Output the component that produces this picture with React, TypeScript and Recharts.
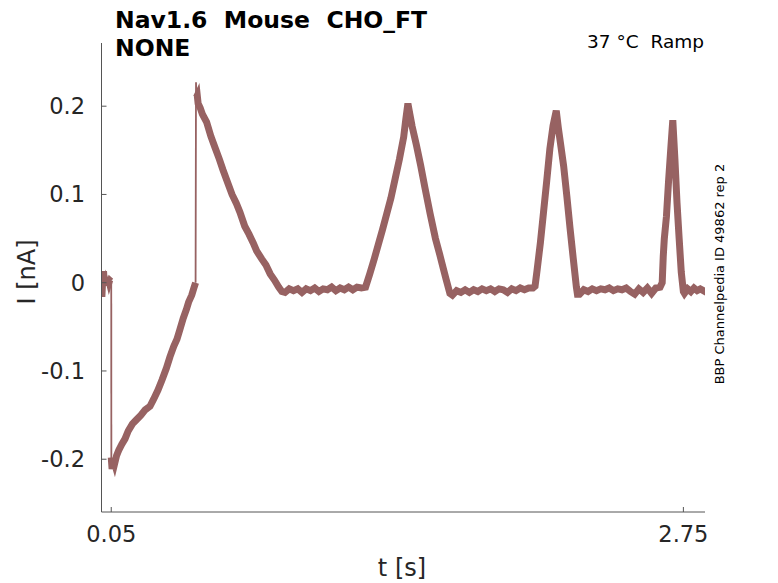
import { LineChart, Line, XAxis, YAxis } from 'recharts'

// current traces, t in s, I in nA
const holdT = [0.004, 0.008, 0.012, 0.016, 0.02, 0.025, 0.03, 0.035, 0.04, 0.045, 0.05]
const holdI = [0.0, -0.016, 0.003, 0.013, -0.003, 0.002, -0.002, 0.004, -0.001, 0.003, 0.002]

const rampT = [0.05, 0.054, 0.06, 0.066, 0.075, 0.085, 0.1, 0.115, 0.13, 0.15, 0.17, 0.19, 0.21, 0.233, 0.25, 0.27, 0.29, 0.31, 0.327, 0.345, 0.36, 0.374, 0.39, 0.405, 0.415, 0.43, 0.44, 0.448]
const rampI = [-0.198, -0.211, -0.2, -0.205, -0.196, -0.19, -0.183, -0.177, -0.168, -0.16, -0.155, -0.15, -0.144, -0.14, -0.132, -0.122, -0.11, -0.097, -0.084, -0.072, -0.064, -0.053, -0.04, -0.03, -0.022, -0.014, -0.006, 0.0]

const decayT = [0.452, 0.456, 0.46, 0.47, 0.48, 0.5, 0.52, 0.54, 0.56, 0.577, 0.6, 0.62, 0.64, 0.657, 0.68, 0.7, 0.72, 0.736, 0.76, 0.78, 0.8, 0.82, 0.84, 0.855]
const decayI = [0.21, 0.212, 0.203, 0.198, 0.191, 0.182, 0.166, 0.153, 0.14, 0.128, 0.113, 0.1, 0.09, 0.08, 0.064, 0.055, 0.045, 0.036, 0.027, 0.02, 0.01, 0.003, -0.005, -0.01]

const flat1T = [0.87, 0.89, 0.91, 0.93, 0.95, 0.97, 0.99, 1.01, 1.03, 1.05, 1.07, 1.09, 1.11, 1.13, 1.15, 1.17, 1.19, 1.21, 1.23]
const flat1I = [-0.011, -0.007, -0.009, -0.007, -0.011, -0.007, -0.009, -0.006, -0.01, -0.007, -0.008, -0.005, -0.009, -0.006, -0.008, -0.005, -0.008, -0.005, -0.006]

const peak1T = [1.25, 1.27, 1.29, 1.31, 1.33, 1.35, 1.37, 1.39, 1.41, 1.43, 1.44, 1.45, 1.46, 1.47, 1.49, 1.51, 1.53, 1.555, 1.58, 1.6, 1.615, 1.63, 1.648]
const peak1I = [-0.005, 0.01, 0.026, 0.043, 0.06, 0.078, 0.096, 0.118, 0.14, 0.165, 0.185, 0.203, 0.19, 0.177, 0.156, 0.133, 0.108, 0.078, 0.05, 0.032, 0.018, 0.004, -0.012]

const flat2T = [1.66, 1.68, 1.7, 1.72, 1.74, 1.76, 1.78, 1.8, 1.82, 1.84, 1.86, 1.88, 1.9, 1.92, 1.94, 1.96, 1.98, 2.0, 2.02, 2.04]
const flat2I = [-0.014, -0.009, -0.011, -0.008, -0.011, -0.008, -0.01, -0.007, -0.009, -0.007, -0.01, -0.007, -0.008, -0.011, -0.007, -0.009, -0.006, -0.008, -0.006, -0.006]

const peak2T = [2.05, 2.06, 2.075, 2.09, 2.105, 2.12, 2.135, 2.15, 2.16, 2.17, 2.185, 2.2, 2.215, 2.23, 2.245, 2.25]
const peak2I = [-0.004, 0.015, 0.045, 0.08, 0.115, 0.152, 0.178, 0.195, 0.175, 0.158, 0.132, 0.098, 0.062, 0.028, -0.005, -0.013]

const flat3T = [2.26, 2.28, 2.3, 2.32, 2.34, 2.36, 2.38, 2.4, 2.42, 2.44, 2.46, 2.48, 2.5, 2.52, 2.54, 2.56, 2.58, 2.6, 2.62, 2.64]
const flat3I = [-0.013, -0.008, -0.01, -0.007, -0.009, -0.007, -0.008, -0.006, -0.009, -0.007, -0.008, -0.006, -0.01, -0.013, -0.007, -0.011, -0.006, -0.012, -0.006, -0.005]

const peak3T = [2.65, 2.655, 2.66, 2.67, 2.68, 2.69, 2.7, 2.71, 2.72, 2.73, 2.74, 2.75]
const peak3I = [0.0, 0.03, 0.05, 0.075, 0.115, 0.15, 0.184, 0.14, 0.09, 0.05, 0.012, -0.01]

const flat4T = [2.755, 2.77, 2.785, 2.8, 2.815, 2.83, 2.845, 2.852]
const flat4I = [-0.012, -0.007, -0.01, -0.006, -0.009, -0.007, -0.009, -0.006]

// thin vertical steps
const step1T = [0.05, 0.0505]
const step1I = [0.002, -0.2]
const step2T = [0.448, 0.45, 0.452]
const step2I = [0.0, 0.227, 0.21]

const xTicks = [0.05, 2.75]
const yTicks = [-0.2, -0.1, 0, 0.1, 0.2]

const pts = (t: number[], v: number[]) => t.map((x, k) => ({ t: x, i: v[k] }))

const hold = pts(holdT, holdI)
const ramp = pts(rampT, rampI)
const tail = [
  ...pts(decayT, decayI),
  ...pts(flat1T, flat1I),
  ...pts(peak1T, peak1I),
  ...pts(flat2T, flat2I),
  ...pts(peak2T, peak2I),
  ...pts(flat3T, flat3I),
  ...pts(peak3T, peak3I),
  ...pts(flat4T, flat4I),
]
const step1 = pts(step1T, step1I)
const step2 = pts(step2T, step2I)

const TRACE = '#976262'
const AXIS = '#555555'
const FONT = '"DejaVu Sans", sans-serif'

export default function App() {
  const tickStyle = { fontSize: 22.5, fill: '#262626', fontFamily: FONT }
  return (
    <div style={{ position: 'absolute', left: 0, top: 0, width: 778, height: 583, background: '#fff' }}>
      <LineChart width={778} height={583} margin={{ top: 43, right: 73, bottom: 41, left: 41.5 }}>
        <XAxis
          type="number"
          dataKey="t"
          domain={[0.004, 2.852]}
          ticks={xTicks}
          tickFormatter={v => String(v)}
          allowDataOverflow
          height={30}
          stroke={AXIS}
          tick={tickStyle}
          tickSize={-5}
          tickMargin={18.7}
        />
        <YAxis
          type="number"
          domain={[-0.2598, 0.2716]}
          ticks={yTicks}
          tickFormatter={v => String(v)}
          allowDataOverflow
          width={60}
          stroke={AXIS}
          tick={tickStyle}
          tickSize={-5}
          tickMargin={21.5}
        />
        <Line data={hold} dataKey="i" stroke={TRACE} strokeWidth={6} dot={false} isAnimationActive={false} />
        <Line data={ramp} dataKey="i" stroke={TRACE} strokeWidth={7} dot={false} isAnimationActive={false} />
        <Line data={tail} dataKey="i" stroke={TRACE} strokeWidth={7} dot={false} isAnimationActive={false} />
        <Line data={step1} dataKey="i" stroke={TRACE} strokeWidth={1.8} dot={false} isAnimationActive={false} />
        <Line data={step2} dataKey="i" stroke={TRACE} strokeWidth={1.8} dot={false} isAnimationActive={false} />
      </LineChart>
      <svg width={778} height={583} style={{ position: 'absolute', left: 0, top: 0, pointerEvents: 'none' }}>
        <text x={115} y={28} fontFamily={FONT} fontWeight="bold" fontSize={23.5} fill="#000" style={{ whiteSpace: 'pre' }}>
          Nav1.6  Mouse  CHO_FT
        </text>
        <text x={115} y={56} fontFamily={FONT} fontWeight="bold" fontSize={23.5} fill="#000">
          NONE
        </text>
        <text x={704} y={48} textAnchor="end" fontFamily={FONT} fontSize={18.5} fill="#000" style={{ whiteSpace: 'pre' }}>
          37 °C  Ramp
        </text>
        <text
          x={27}
          y={272}
          transform="rotate(-90 27 272)"
          textAnchor="middle"
          dominantBaseline="central"
          fontFamily={FONT}
          fontSize={24}
          fill="#262626"
        >
          I [nA]
        </text>
        <text x={402} y={576} textAnchor="middle" fontFamily={FONT} fontSize={24} fill="#262626">
          t [s]
        </text>
        <text
          x={719}
          y={274}
          transform="rotate(-90 719 274)"
          textAnchor="middle"
          dominantBaseline="central"
          fontFamily={FONT}
          fontSize={13}
          fill="#000"
        >
          BBP Channelpedia ID 49862 rep 2
        </text>
      </svg>
    </div>
  )
}
